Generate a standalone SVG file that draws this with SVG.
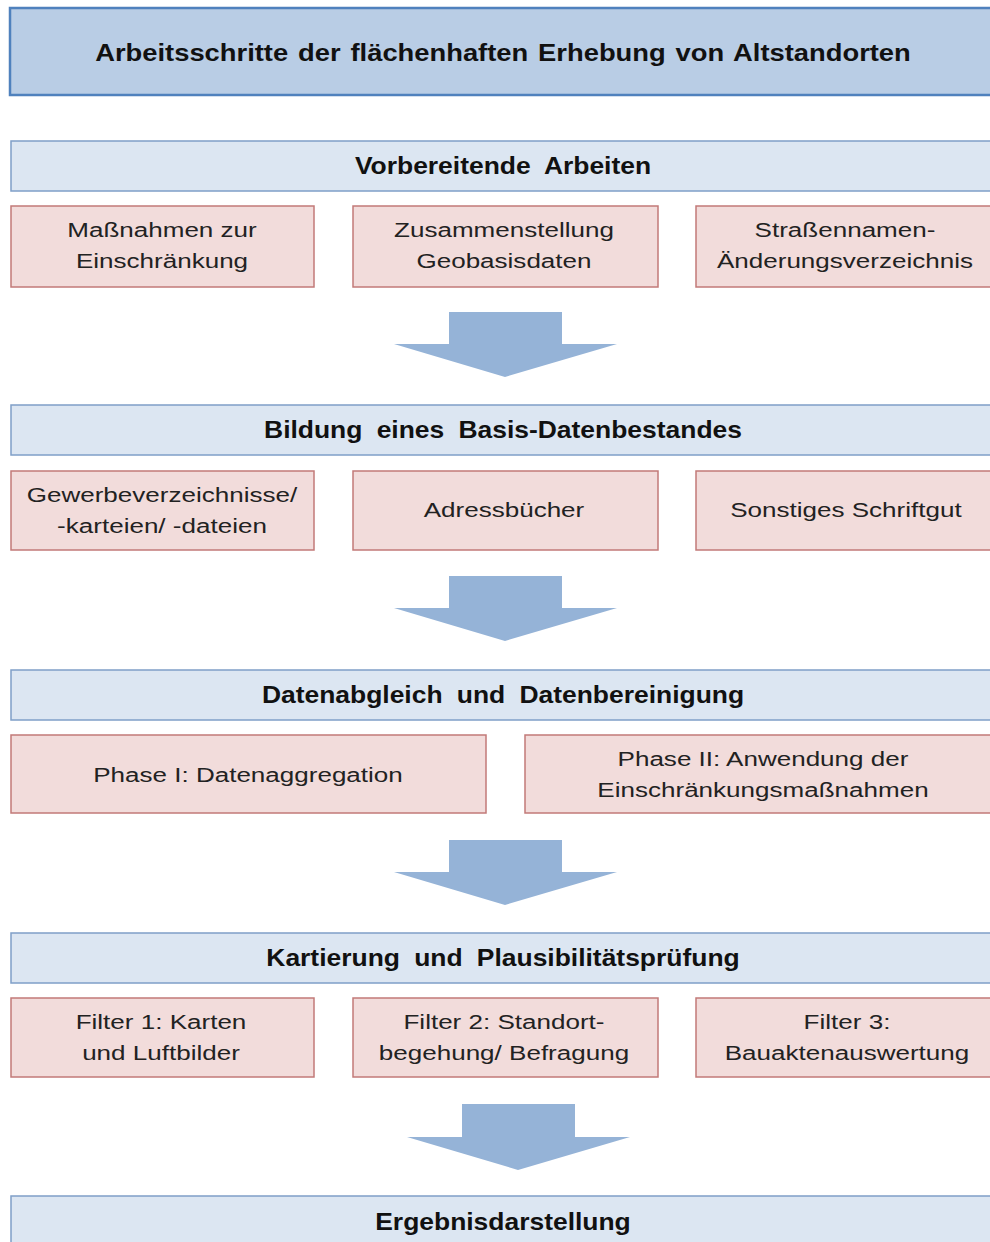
<svg xmlns="http://www.w3.org/2000/svg" width="990" height="1242" viewBox="0 0 990 1242">
  <style>
    .title { fill: #b9cde5; stroke: #4f81bd; stroke-width: 2.5; }
    .head { fill: #dce6f2; stroke: #7f9fc8; stroke-width: 1.5; }
    .item { fill: #f2dcdb; stroke: #c27a78; stroke-width: 1.5; }
    .arrow { fill: #95b3d7; }
    text { font-family: "Liberation Sans", Arial, sans-serif; fill: #111; text-anchor: middle;
           transform-box: fill-box; transform-origin: center; }
    .tt { font-size: 24px; font-weight: bold; word-spacing: 2px; transform: scaleX(1.14); }
    .ht { font-size: 23px; font-weight: bold; word-spacing: 6px; transform: scaleX(1.15); }
    .it { font-size: 21px; fill: #222; transform: scaleX(1.24); }
  </style>

  <g id="title">
    <rect class="title" x="10" y="8" width="990" height="87"/>
    <text class="tt" x="503" y="61">Arbeitsschritte der flächenhaften Erhebung von Altstandorten</text>
  </g>

  <!-- Stage 1 -->
  <g id="vorbereitende-arbeiten">
    <rect class="head" x="11" y="141" width="990" height="50"/>
    <text class="ht" x="503" y="174">Vorbereitende Arbeiten</text>
  </g>
  <g id="massnahmen">
    <rect class="item" x="11" y="206" width="303" height="81"/>
    <text class="it" x="162" y="237">Maßnahmen zur</text>
    <text class="it" x="162" y="268">Einschränkung</text>
  </g>
  <g id="geobasisdaten">
    <rect class="item" x="353" y="206" width="305" height="81"/>
    <text class="it" x="504" y="237">Zusammenstellung</text>
    <text class="it" x="504" y="268">Geobasisdaten</text>
  </g>
  <g id="strassennamen">
    <rect class="item" x="696" y="206" width="305" height="81"/>
    <text class="it" x="845" y="237">Straßennamen-</text>
    <text class="it" x="845" y="268">Änderungsverzeichnis</text>
  </g>

  <!-- Stage 2 -->
  <g id="basis-datenbestand">
    <rect class="head" x="11" y="405" width="990" height="50"/>
    <text class="ht" x="503" y="438">Bildung eines Basis-Datenbestandes</text>
  </g>
  <g id="gewerbeverzeichnisse">
    <rect class="item" x="11" y="471" width="303" height="79"/>
    <text class="it" x="162" y="502">Gewerbeverzeichnisse/</text>
    <text class="it" x="162" y="533">-karteien/ -dateien</text>
  </g>
  <g id="adressbuecher">
    <rect class="item" x="353" y="471" width="305" height="79"/>
    <text class="it" x="504" y="517">Adressbücher</text>
  </g>
  <g id="schriftgut">
    <rect class="item" x="696" y="471" width="305" height="79"/>
    <text class="it" x="846" y="517">Sonstiges Schriftgut</text>
  </g>

  <!-- Stage 3 -->
  <g id="datenabgleich">
    <rect class="head" x="11" y="670" width="990" height="50"/>
    <text class="ht" x="503" y="703">Datenabgleich und Datenbereinigung</text>
  </g>
  <g id="phase-1">
    <rect class="item" x="11" y="735" width="475" height="78"/>
    <text class="it" x="248" y="782">Phase I: Datenaggregation</text>
  </g>
  <g id="phase-2">
    <rect class="item" x="525" y="735" width="476" height="78"/>
    <text class="it" x="763" y="766">Phase II: Anwendung der</text>
    <text class="it" x="763" y="797">Einschränkungsmaßnahmen</text>
  </g>

  <!-- Stage 4 -->
  <g id="kartierung">
    <rect class="head" x="11" y="933" width="990" height="50"/>
    <text class="ht" x="503" y="966">Kartierung und Plausibilitätsprüfung</text>
  </g>
  <g id="filter-1">
    <rect class="item" x="11" y="998" width="303" height="79"/>
    <text class="it" x="161" y="1029">Filter 1: Karten</text>
    <text class="it" x="161" y="1060">und Luftbilder</text>
  </g>
  <g id="filter-2">
    <rect class="item" x="353" y="998" width="305" height="79"/>
    <text class="it" x="504" y="1029">Filter 2: Standort-</text>
    <text class="it" x="504" y="1060">begehung/ Befragung</text>
  </g>
  <g id="filter-3">
    <rect class="item" x="696" y="998" width="305" height="79"/>
    <text class="it" x="847" y="1029">Filter 3:</text>
    <text class="it" x="847" y="1060">Bauaktenauswertung</text>
  </g>

  <!-- Stage 5 -->
  <g id="ergebnisdarstellung">
    <rect class="head" x="11" y="1196" width="990" height="60"/>
    <text class="ht" x="503" y="1230">Ergebnisdarstellung</text>
  </g>

  <!-- Block arrows between stages -->
  <g id="connectors">
    <polygon class="arrow" points="449,312 562,312 562,344 617,344 505,377 394,344 449,344"/>
    <polygon class="arrow" points="449,576 562,576 562,608 617,608 505,641 394,608 449,608"/>
    <polygon class="arrow" points="449,840 562,840 562,872 617,872 505,905 394,872 449,872"/>
    <polygon class="arrow" points="462,1104 575,1104 575,1137 630,1137 518,1170 407,1137 462,1137"/>
  </g>
</svg>
